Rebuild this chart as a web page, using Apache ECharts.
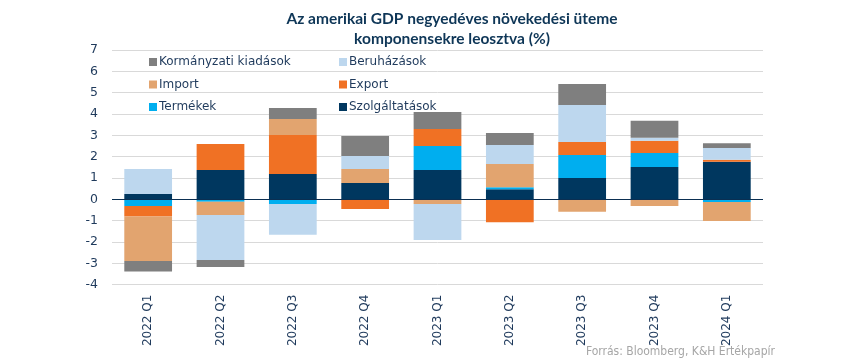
<!DOCTYPE html>
<html>
<head>
<meta charset="utf-8">
<script src="https://cdn.jsdelivr.net/npm/echarts@6/dist/echarts.min.js"></script>
<style>
html,body{margin:0;padding:0;background:#fff;}
#c{width:850px;height:364px;}
</style>
</head>
<body>
<div id="c"></div>
<script>
const categories = ['2022 Q1','2022 Q2','2022 Q3','2022 Q4','2023 Q1','2023 Q2','2023 Q3','2023 Q4','2024 Q1'];
const szolgaltatasok = [0.25, 1.37, 1.19, 0.76, 1.37, 0.47, 1.00, 1.51, 1.76];
const termekek       = [-0.31, -0.12, -0.22, 0.00, 1.13, 0.09, 1.08, 0.66, -0.13];
const exportData     = [-0.50, 1.22, 1.82, -0.45, 0.80, -1.08, 0.61, 0.57, 0.09];
const importData     = [-2.08, -0.62, 0.75, 0.66, -0.22, 1.10, -0.58, -0.31, -0.89];
const beruhazasok    = [1.17, -2.11, -1.44, 0.61, -1.69, 0.89, 1.73, 0.14, 0.55];
const kormanyzati    = [-0.50, -0.32, 0.52, 0.94, 0.79, 0.56, 0.98, 0.80, 0.23];
const yTicks = { min: -4, max: 7, interval: 1 };

const names = ['Szolgáltatások','Termékek','Export','Import','Beruházások','Kormányzati kiadások'];
const colors = ['#00375f','#00aeef','#f07124','#e2a46f','#bdd7ee','#7f7f7f'];
const datas = [szolgaltatasok, termekek, exportData, importData, beruhazasok, kormanyzati];

const chart = echarts.init(document.getElementById('c'));
const txt = '#1f3a5c';
const legendCommon = {
  orient: 'vertical', icon: 'rect', itemWidth: 8, itemHeight: 8, itemGap: 8.5,
  textStyle: { color: txt, fontFamily: 'DejaVu Sans', fontSize: 12, lineHeight: 14, padding: [0,0,0,-3] },
  selectedMode: false
};
const series = names.map((n, i) => ({
  name: n, type: 'bar', stack: 'total', data: datas[i],
  barWidth: '66%',
  itemStyle: { color: colors[i] },
  emphasis: { disabled: true },
  markLine: i === 0 ? {
    symbol: 'none', silent: true, label: { show: false },
    lineStyle: { color: '#0b2f52', type: 'solid', width: 1.2 },
    data: [{ yAxis: 0 }]
  } : undefined,
  z: 3
}));

chart.setOption({
  animation: false,
  backgroundColor: '#fff',
  title: {
    text: 'Az amerikai GDP negyedéves növekedési üteme\nkomponensekre leosztva (%)',
    left: 447, textAlign: 'center', top: 4,
    textStyle: { color: '#0e3657', fontFamily: 'Lato', fontWeight: 'bold', fontSize: 15.5, lineHeight: 20 }
  },
  graphic: [{
    type: 'text', right: 75, top: 346,
    style: { text: 'Forrás: Bloomberg, K&H Értékpapír', fill: '#a6a6a6', font: '12px "DejaVu Sans Condensed"' }
  }],
  legend: [
    Object.assign({ left: 144, top: 50, data: ['Kormányzati kiadások','Import','Termékek'] }, legendCommon),
    Object.assign({ left: 334, top: 50, data: ['Beruházások','Export','Szolgáltatások'] }, legendCommon)
  ],
  grid: { left: 112, right: 87, top: 50, bottom: 79.4 },
  xAxis: {
    type: 'category', data: categories,
    axisLine: { show: false, onZero: false },
    axisTick: { show: false },
    axisLabel: { rotate: 90, color: txt, fontFamily: 'DejaVu Sans', fontSize: 12, margin: 10 },
    splitLine: { show: false }
  },
  yAxis: {
    type: 'value', min: yTicks.min, max: yTicks.max, interval: yTicks.interval,
    axisLine: { show: false }, axisTick: { show: false },
    axisLabel: { color: txt, fontFamily: 'DejaVu Sans', fontSize: 12.5, margin: 14 },
    splitLine: { lineStyle: { color: '#d9d9d9', width: 1 } }
  },
  series: series
});
</script>
</body>
</html>
